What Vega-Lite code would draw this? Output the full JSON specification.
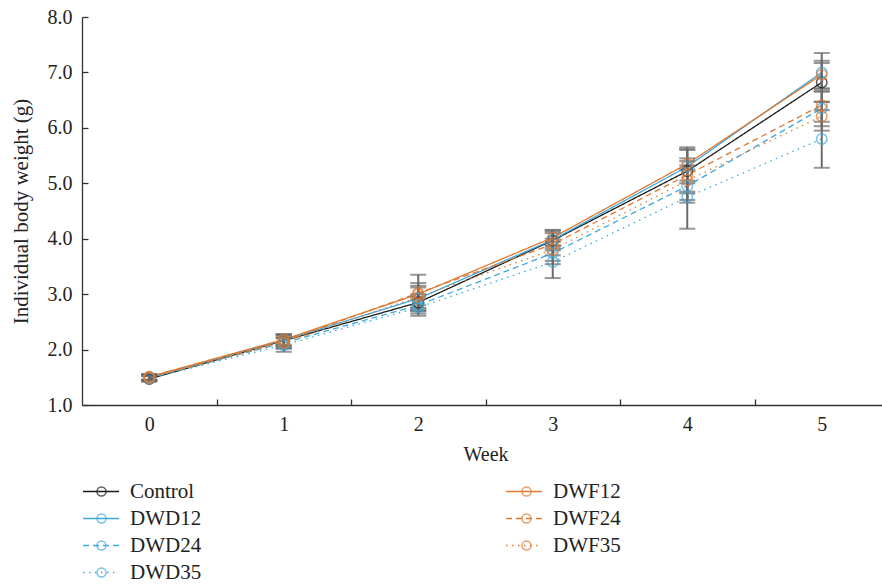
{
  "$schema": "https://vega.github.io/schema/vega-lite/v6.json",
  "width": 807,
  "height": 388,
  "autosize": {"type": "none"},
  "padding": {"left": 82, "top": 17, "right": 0, "bottom": 182},
  "background": "white",
  "config": {
    "view": {"stroke": null},
    "font": "Liberation Serif",
    "axis": {
      "grid": false,
      "domainColor": "#333333",
      "tickColor": "#333333",
      "domainWidth": 1.3,
      "tickWidth": 1.3,
      "labelColor": "#222222",
      "titleColor": "#222222",
      "labelFont": "Liberation Serif",
      "titleFont": "Liberation Serif",
      "labelFontSize": 20,
      "titleFontSize": 20,
      "titleFontWeight": "normal"
    }
  },
  "data": {
    "values": [
      {"group": "Control", "week": 0, "mean": 1.47, "sd": 0.05},
      {"group": "Control", "week": 1, "mean": 2.16, "sd": 0.1},
      {"group": "Control", "week": 2, "mean": 2.85, "sd": 0.15},
      {"group": "Control", "week": 3, "mean": 3.97, "sd": 0.18},
      {"group": "Control", "week": 4, "mean": 5.22, "sd": 0.4},
      {"group": "Control", "week": 5, "mean": 6.82, "sd": 0.35},
      {"group": "DWD12", "week": 0, "mean": 1.5, "sd": 0.05},
      {"group": "DWD12", "week": 1, "mean": 2.17, "sd": 0.1},
      {"group": "DWD12", "week": 2, "mean": 2.92, "sd": 0.2},
      {"group": "DWD12", "week": 3, "mean": 3.98, "sd": 0.15},
      {"group": "DWD12", "week": 4, "mean": 5.3, "sd": 0.3},
      {"group": "DWD12", "week": 5, "mean": 7.0, "sd": 0.35},
      {"group": "DWD24", "week": 0, "mean": 1.49, "sd": 0.04},
      {"group": "DWD24", "week": 1, "mean": 2.12, "sd": 0.1},
      {"group": "DWD24", "week": 2, "mean": 2.8, "sd": 0.15},
      {"group": "DWD24", "week": 3, "mean": 3.74, "sd": 0.2},
      {"group": "DWD24", "week": 4, "mean": 4.95, "sd": 0.3},
      {"group": "DWD24", "week": 5, "mean": 6.35, "sd": 0.32},
      {"group": "DWD35", "week": 0, "mean": 1.48, "sd": 0.05},
      {"group": "DWD35", "week": 1, "mean": 2.08, "sd": 0.12},
      {"group": "DWD35", "week": 2, "mean": 2.76, "sd": 0.15},
      {"group": "DWD35", "week": 3, "mean": 3.58, "sd": 0.29},
      {"group": "DWD35", "week": 4, "mean": 4.75, "sd": 0.57},
      {"group": "DWD35", "week": 5, "mean": 5.8, "sd": 0.52},
      {"group": "DWF12", "week": 0, "mean": 1.51, "sd": 0.05},
      {"group": "DWF12", "week": 1, "mean": 2.18, "sd": 0.1},
      {"group": "DWF12", "week": 2, "mean": 3.0, "sd": 0.2},
      {"group": "DWF12", "week": 3, "mean": 4.02, "sd": 0.14},
      {"group": "DWF12", "week": 4, "mean": 5.35, "sd": 0.3},
      {"group": "DWF12", "week": 5, "mean": 6.96, "sd": 0.25},
      {"group": "DWF24", "week": 0, "mean": 1.5, "sd": 0.05},
      {"group": "DWF24", "week": 1, "mean": 2.15, "sd": 0.12},
      {"group": "DWF24", "week": 2, "mean": 3.02, "sd": 0.33},
      {"group": "DWF24", "week": 3, "mean": 3.9, "sd": 0.2},
      {"group": "DWF24", "week": 4, "mean": 5.15, "sd": 0.3},
      {"group": "DWF24", "week": 5, "mean": 6.41, "sd": 0.3},
      {"group": "DWF35", "week": 0, "mean": 1.49, "sd": 0.05},
      {"group": "DWF35", "week": 1, "mean": 2.12, "sd": 0.1},
      {"group": "DWF35", "week": 2, "mean": 2.95, "sd": 0.2},
      {"group": "DWF35", "week": 3, "mean": 3.8, "sd": 0.2},
      {"group": "DWF35", "week": 4, "mean": 5.05, "sd": 0.35},
      {"group": "DWF35", "week": 5, "mean": 6.21, "sd": 0.26}
    ]
  },
  "encoding": {
    "x": {
      "field": "week",
      "type": "quantitative",
      "scale": {"domain": [-0.5, 5.5], "nice": false, "zero": false},
      "axis": {
        "title": "Week",
        "values": [0, 0.5, 1, 1.5, 2, 2.5, 3, 3.5, 4, 4.5, 5],
        "labelExpr": "datum.value % 1 === 0 ? datum.label : ''",
        "format": ".1~f",
        "tickSize": -6,
        "tickOpacity": {"condition": {"test": "datum.value % 1 !== 0", "value": 1}, "value": 0},
        "labelPadding": 15,
        "titlePadding": 10,
        "labelFlush": false
      }
    },
    "y": {
      "field": "mean",
      "type": "quantitative",
      "scale": {"domain": [1, 8], "nice": false, "zero": false},
      "axis": {
        "title": "Individual body weight (g)",
        "titleFontSize": 21,
        "values": [1, 2, 3, 4, 5, 6, 7, 8],
        "format": ".1f",
        "tickSize": -6,
        "labelPadding": 16,
        "titlePadding": 16
      }
    }
  },
  "layer": [
    {
      "mark": {"type": "line", "strokeWidth": 1.3},
      "encoding": {
        "color": {
          "field": "group",
          "type": "nominal",
          "scale": {
            "domain": ["Control", "DWD12", "DWD24", "DWD35", "DWF12", "DWF24", "DWF35"],
            "range": ["#1a1a1a", "#3CA9DE", "#3CA9DE", "#3CA9DE", "#E0782F", "#E0782F", "#E0782F"]
          },
          "legend": {
            "orient": "none", "legendX": 0, "legendY": 461, "columns": 2, "columnPadding": 303,
            "rowPadding": 0, "clipHeight": 27, "symbolType": "stroke", "symbolSize": 1296,
            "symbolStrokeWidth": 1.5, "labelOffset": 10, "labelFontSize": 21, "labelFont": "Liberation Serif",
            "labelColor": "#222222", "title": null, "padding": 0
          }
        },
        "strokeDash": {
          "field": "group",
          "type": "nominal",
          "scale": {
            "domain": ["Control", "DWD12", "DWD24", "DWD35", "DWF12", "DWF24", "DWF35"],
            "range": [[1, 0], [1, 0], [6, 4], [1.5, 4.5], [1, 0], [6, 4], [1.5, 4.5]]
          },
          "legend": {
            "orient": "none", "legendX": 0, "legendY": 461, "columns": 2, "columnPadding": 303,
            "rowPadding": 0, "clipHeight": 27, "symbolType": "stroke", "symbolSize": 1296,
            "symbolStrokeWidth": 1.5, "labelOffset": 10, "labelFontSize": 21, "labelFont": "Liberation Serif",
            "labelColor": "#222222", "title": null, "padding": 0
          }
        }
      }
    },
    {
      "mark": {"type": "errorbar", "ticks": {"size": 16, "thickness": 2}, "rule": {"strokeWidth": 2}, "color": "#6b6b6b"},
      "encoding": {
        "yError": {"field": "sd"}
      }
    },
    {
      "mark": {"type": "point", "shape": "circle", "filled": false, "size": 110, "strokeWidth": 1.5},
      "encoding": {
        "stroke": {
          "field": "group",
          "type": "nominal",
          "scale": {
            "domain": ["Control", "DWD12", "DWD24", "DWD35", "DWF12", "DWF24", "DWF35", "zz"],
            "range": ["#1a1a1a", "#3CA9DE", "#3CA9DE", "#3CA9DE", "#E0782F", "#E0782F", "#E0782F", "transparent"]
          },
          "legend": {
            "orient": "none", "legendX": 0, "legendY": 461, "columns": 2, "columnPadding": 367,
            "rowPadding": 0, "clipHeight": 27, "symbolType": "circle", "symbolSize": 81,
            "symbolStrokeWidth": 1.5, "symbolOffset": 9, "symbolFillColor": "transparent",
            "labelOffset": 28, "labelFontSize": 21, "labelFont": "Liberation Serif",
            "labelExpr": "''", "labelColor": "transparent", "title": null, "padding": 0
          }
        }
      }
    }
  ]
}
